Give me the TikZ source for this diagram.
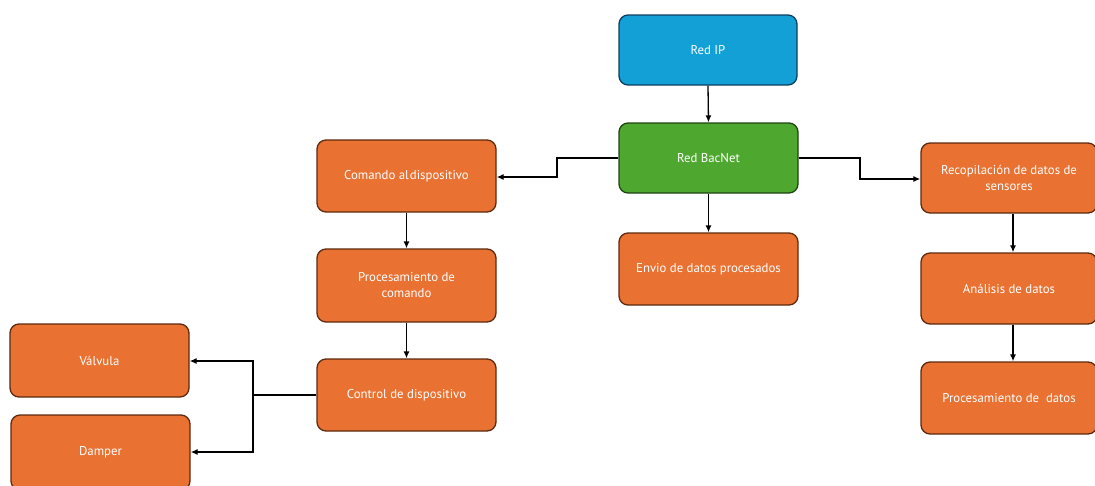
\documentclass[tikz,border=0pt]{standalone}
\usepackage{fontspec}
\setmainfont{PT Sans}
\usetikzlibrary{arrows.meta}
\definecolor{boxorange}{HTML}{E97132}
\definecolor{edgeorange}{HTML}{5C2A0E}
\definecolor{boxblue}{HTML}{12A0D7}
\definecolor{edgeblue}{HTML}{0D3F5C}
\definecolor{boxgreen}{HTML}{4EA72E}
\definecolor{edgegreen}{HTML}{1E4412}
\tikzset{
  card/.style={draw=edgeorange, fill=boxorange, line width=1.3pt,
    rounded corners=9pt, text=white, align=center, inner sep=2pt,
    font=\fontsize{12.8}{16}\selectfont},
  wire/.style={line width=1.3pt, -{Latex[length=7pt,width=6pt]}},
}
\newcommand{\cardbox}[7]{% name, x1, y1, x2, y2, style, text
  \node[card, #6, minimum width={#4pt-#2pt}, minimum height={#5pt-#3pt}]
    (#1) at ({(#2+#4)/2}, {(#3+#5)/2}) {#7};}
\begin{document}
\begin{tikzpicture}[x=1pt, y=-1pt]
\useasboundingbox (0,0) rectangle (1095,485);

\cardbox{ip}{619}{15}{797}{85}{fill=boxblue, draw=edgeblue}{Red IP}
\cardbox{bac}{619}{123}{798}{193}{fill=boxgreen, draw=edgegreen}{Red BacNet}
\cardbox{cmd}{317}{140}{496}{212}{}{Comando al\hspace{1pt}dispositivo}
\cardbox{proc}{317}{249}{496}{322}{}{Procesamiento de\\comando}
\cardbox{ctrl}{317}{359}{496}{431}{}{Control de dispositivo}
\cardbox{valv}{10}{324}{189}{397}{}{Válvula}
\cardbox{damp}{11}{415}{190}{490}{}{Damper}
\cardbox{env}{619}{233}{798}{305}{}{Envio de datos procesados}
\cardbox{rec}{921}{143}{1097}{213}{}{Recopilación de datos de\\sensores}
\cardbox{ana}{921}{253}{1097}{324}{}{Análisis de datos}
\cardbox{pdat}{921}{362}{1097}{434}{}{Procesamiento de\ \ datos}

\draw[wire] (ip.south) -- (bac.north);
\draw[wire] (bac.west) -- (557,158) -- (557,177) -- (cmd.east |- 0,177);
\draw[wire] (bac.east) -- (860,158) -- (860,179) -- (rec.west |- 0,179);
\draw[wire] (bac.south) -- (env.north);
\draw[wire] (cmd.south) -- (proc.north);
\draw[wire] (proc.south) -- (ctrl.north);
\coordinate (split) at (253,395);
\draw[line width=1.3pt] (ctrl.west) -- (split);
\draw[wire] (split) -- (253,361) -- (valv.east |- 0,361);
\draw[wire] (split) -- (253,452) -- (damp.east |- 0,452);
\draw[wire] (rec.south -| 1013,0) -- (ana.north -| 1013,0);
\draw[wire] (ana.south -| 1013,0) -- (pdat.north -| 1013,0);
\end{tikzpicture}
\end{document}
